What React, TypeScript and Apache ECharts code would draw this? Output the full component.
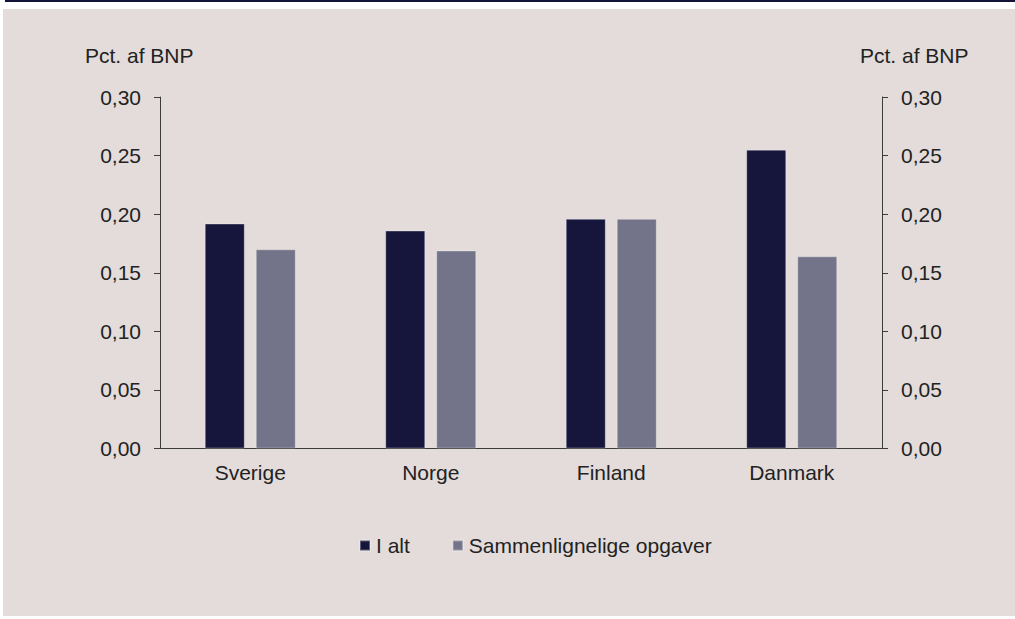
import React, { useEffect, useRef } from "react";
import * as echarts from "echarts";

const categories = ["Sverige", "Norge", "Finland", "Danmark"];
const seriesNames = ["I alt", "Sammenlignelige opgaver"];
const iAlt = [0.192, 0.186, 0.196, 0.255];
const sammenlignelige = [0.170, 0.169, 0.196, 0.164];
const axisTitle = "Pct. af BNP";
const yMin = 0;
const yMax = 0.3;
const yStep = 0.05;

const FONT = "'Liberation Sans', Arial, sans-serif";
const TEXT = "#222222";
const DARK = "#16163c";
const GREY = "#737389";
const AXIS = "#3c3c3c";

export default function App() {
  const ref = useRef<HTMLDivElement>(null);
  useEffect(() => {
    if (!ref.current) return;
    const chart = echarts.init(ref.current, null, { renderer: "svg" });
    const fmt = (v: number) => v.toFixed(2).replace(".", ",");
    const yAxisBase = {
      type: "value",
      min: yMin,
      max: yMax,
      interval: yStep,
      splitLine: { show: false },
      axisLine: { show: true, lineStyle: { color: AXIS, width: 1 } },
      axisTick: { show: true, length: 6, lineStyle: { color: AXIS } },
      axisLabel: { formatter: fmt, color: TEXT, fontSize: 21, fontFamily: FONT, margin: 19 },
    };
    chart.setOption({
      animation: false,
      backgroundColor: "#ffffff",
      textStyle: { fontFamily: FONT },
      graphic: [
        { type: "rect", z: -10, shape: { x: 3, y: 9, width: 1012, height: 607 }, style: { fill: "#e3dcda" } },
        { type: "rect", z: -10, shape: { x: 5, y: 0, width: 1010, height: 2 }, style: { fill: "#13133a" } },
        { type: "text", x: 85, y: 55, style: { text: axisTitle, fill: TEXT, font: `21px ${FONT}`, textVerticalAlign: "middle" } },
        { type: "text", x: 860, y: 55, style: { text: axisTitle, fill: TEXT, font: `21px ${FONT}`, textVerticalAlign: "middle" } },
      ],
      grid: { left: 160, right: 133, top: 97, bottom: 170.5, containLabel: false },
      legend: {
        left: 354,
        top: 530,
        icon: "rect",
        itemWidth: 10,
        itemHeight: 10,
        itemGap: 42,
        textStyle: { color: TEXT, fontSize: 21, fontFamily: FONT, padding: [0, 0, 0, 1] },
        data: seriesNames,
      },
      xAxis: {
        type: "category",
        data: categories,
        axisLine: { show: true, lineStyle: { color: AXIS, width: 1 } },
        axisTick: { show: false },
        axisLabel: { color: TEXT, fontSize: 21, fontFamily: FONT, margin: 13 },
      },
      yAxis: [
        { ...yAxisBase, position: "left" },
        { ...yAxisBase, position: "right" },
      ],
      series: [
        {
          name: seriesNames[0],
          type: "bar",
          data: iAlt,
          barWidth: 40,
          barGap: "27.5%",
          itemStyle: { color: DARK, borderColor: "rgba(255,255,255,0.3)", borderWidth: 1 },
        },
        {
          name: seriesNames[1],
          type: "bar",
          data: sammenlignelige,
          barWidth: 40,
          barGap: "27.5%",
          itemStyle: { color: GREY, borderColor: "rgba(255,255,255,0.3)", borderWidth: 1 },
        },
      ],
    });
    return () => chart.dispose();
  }, []);
  return (
    <div
      ref={ref}
      style={{ position: "fixed", left: 0, top: 0, width: 1015, height: 619 }}
    />
  );
}
